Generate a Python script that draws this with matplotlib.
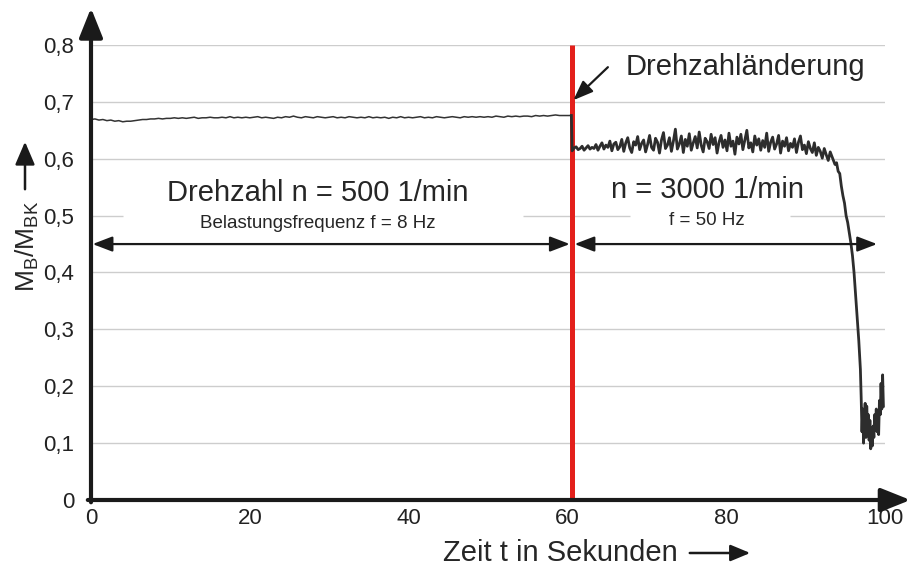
import numpy as np
import matplotlib.pyplot as plt

plt.rcParams['font.family'] = ['Liberation Sans', 'DejaVu Sans']
plt.rcParams['mathtext.default'] = 'regular'

# M_B/M_BK bei 500 1/min, t = 0 ... 60,5 s (alle 0,5 s)
m_500 = [
    0.669, 0.670, 0.668, 0.669, 0.667, 0.668, 0.666, 0.667, 0.665, 0.666,
    0.666, 0.667, 0.668, 0.669, 0.669, 0.670, 0.670, 0.671, 0.670, 0.671,
    0.671, 0.672, 0.671, 0.672, 0.671, 0.672, 0.673, 0.671, 0.672, 0.672,
    0.673, 0.672, 0.672, 0.673, 0.672, 0.674, 0.672, 0.673, 0.672, 0.673,
    0.672, 0.673, 0.674, 0.672, 0.673, 0.672, 0.671, 0.673, 0.672, 0.674,
    0.673, 0.675, 0.673, 0.672, 0.674, 0.673, 0.672, 0.674, 0.673, 0.672,
    0.673, 0.674, 0.672, 0.673, 0.672, 0.674, 0.673, 0.672, 0.673, 0.672,
    0.674, 0.672, 0.673, 0.672, 0.673, 0.671, 0.673, 0.672, 0.674, 0.672,
    0.673, 0.672, 0.673, 0.674, 0.672, 0.673, 0.672, 0.674, 0.673, 0.672,
    0.673, 0.674, 0.673, 0.672, 0.674, 0.673, 0.674, 0.673, 0.674, 0.673,
    0.674, 0.673, 0.675, 0.674, 0.673, 0.675, 0.674, 0.675, 0.674, 0.675,
    0.675, 0.674, 0.676, 0.675, 0.676, 0.675, 0.676, 0.677, 0.676, 0.676,
    0.676, 0.676,
]

# 3000 1/min ab t = 60,6 s (alle 0,25 s)
t_switch = 60.6
m_3000 = [
    0.614, 0.619, 0.621, 0.616, 0.618, 0.622, 0.615, 0.619, 0.623, 0.617, 0.620, 0.618,
    0.625, 0.615, 0.622, 0.628, 0.617, 0.624, 0.620, 0.631, 0.614, 0.626, 0.629, 0.616,
    0.621, 0.634, 0.613, 0.628, 0.637, 0.619, 0.611, 0.630, 0.624, 0.639, 0.616, 0.627,
    0.633, 0.612, 0.625, 0.641, 0.620, 0.615, 0.636, 0.629, 0.610, 0.633, 0.646, 0.618,
    0.624, 0.637, 0.613, 0.631, 0.652, 0.617, 0.626, 0.640, 0.611, 0.634, 0.622, 0.644,
    0.615, 0.628, 0.639, 0.619, 0.647, 0.624, 0.612, 0.636, 0.630, 0.618, 0.643, 0.625,
    0.637, 0.610, 0.629, 0.641, 0.620, 0.633, 0.614, 0.645, 0.622, 0.631, 0.608, 0.638,
    0.626, 0.643, 0.616, 0.633, 0.650, 0.619, 0.628, 0.612, 0.640, 0.624, 0.635, 0.615,
    0.632, 0.620, 0.645, 0.613, 0.629, 0.638, 0.617, 0.626, 0.641, 0.610, 0.631, 0.622,
    0.637, 0.614, 0.627, 0.620, 0.635, 0.611, 0.629, 0.640, 0.616, 0.624, 0.609, 0.630,
    0.618, 0.611, 0.628, 0.606, 0.620, 0.613, 0.601, 0.618, 0.607, 0.597, 0.612, 0.603,
]

# Abfall am Ende
t_fall = [93.5, 93.7, 93.9, 94.1, 94.3, 94.5, 94.7, 94.9, 95.1, 95.3, 95.5, 95.7,
          95.9, 96.1, 96.3, 96.5, 96.7, 96.9, 97.0, 97.1, 97.2, 97.3, 97.4, 97.5,
          97.6, 97.7, 97.8, 97.9, 98.0, 98.1, 98.2, 98.3, 98.4, 98.5, 98.6, 98.7,
          98.8, 98.9, 99.0, 99.1, 99.2, 99.3, 99.4, 99.5, 99.6, 99.7, 99.8]
m_fall = [0.598, 0.590, 0.593, 0.578, 0.574, 0.552, 0.535, 0.522, 0.500, 0.488, 0.470, 0.452,
          0.430, 0.400, 0.360, 0.320, 0.280, 0.230, 0.180, 0.120, 0.160, 0.100, 0.145, 0.170,
          0.110, 0.165, 0.130, 0.150, 0.105, 0.140, 0.090, 0.120, 0.095, 0.130, 0.110, 0.150,
          0.125, 0.160, 0.120, 0.140, 0.115, 0.175, 0.150, 0.205, 0.160, 0.220, 0.165]

x_ticks = [0, 20, 40, 60, 80, 100]
y_ticks = [0, 0.1, 0.2, 0.3, 0.4, 0.5, 0.6, 0.7, 0.8]
y_labels = ['0', '0,1', '0,2', '0,3', '0,4', '0,5', '0,6', '0,7', '0,8']

t_500 = np.arange(len(m_500)) * 0.5
t_3000 = t_switch + np.arange(len(m_3000)) * 0.25
t_hi = np.concatenate([[t_500[-1]], t_3000, t_fall])
m_hi = np.concatenate([[m_500[-1]], m_3000, m_fall])

fig = plt.figure(figsize=(9.11, 5.66), dpi=100)
ax = fig.add_axes([91 / 911, 1 - 500 / 566, 794 / 911, 455 / 566])
ax.set_xlim(0, 100)
ax.set_ylim(0, 0.8)
for s in ax.spines.values():
    s.set_visible(False)

grid_col = '#cdcdcd'
for y in y_ticks[1:]:
    if y == 0.5:
        # Linie wird von den Texten unterbrochen
        ax.hlines(y, 0, 4.0, color=grid_col, lw=1, zorder=0)
        ax.hlines(y, 54.4, 67.9, color=grid_col, lw=1, zorder=0)
        ax.hlines(y, 88.0, 100, color=grid_col, lw=1, zorder=0)
    else:
        ax.hlines(y, 0, 100, color=grid_col, lw=1, zorder=0)

ax.vlines(t_switch, 0, 0.8, color='#e3201b', lw=3.6, zorder=4)
ax.plot(t_500, m_500, color='#333333', lw=1.1, zorder=5)
ax.plot(t_hi, m_hi, color='#2d2d2d', lw=2.0, zorder=5)

# Achsen mit Pfeilen
ax.annotate('', xy=(0, 0.865), xytext=(0, -0.004), annotation_clip=False,
            arrowprops=dict(arrowstyle='-|>,head_length=0.9,head_width=0.36',
                            mutation_scale=20, lw=3, color='#1a1a1a',
                            shrinkA=0, shrinkB=0), zorder=6)
ax.annotate('', xy=(103.2, 0), xytext=(-0.4, 0), annotation_clip=False,
            arrowprops=dict(arrowstyle='-|>,head_length=0.9,head_width=0.36',
                            mutation_scale=20, lw=3, color='#1a1a1a',
                            shrinkA=0, shrinkB=0), zorder=6)

ax.set_xticks(x_ticks, [str(v) for v in x_ticks], fontsize=16)
ax.set_yticks(y_ticks, y_labels, fontsize=16)
ax.tick_params(axis='x', length=0, pad=6, colors='#222222')
ax.tick_params(axis='y', length=0, pad=12, colors='#222222')

# Bereichspfeile
dbl = dict(arrowstyle='<|-|>,head_length=0.6,head_width=0.23', mutation_scale=20,
           lw=1.6, color='#1a1a1a', shrinkA=0, shrinkB=0)
ax.annotate('', xy=(60.3, 0.45), xytext=(0.2, 0.45), arrowprops=dbl, zorder=6)
ax.annotate('', xy=(99.0, 0.45), xytext=(60.9, 0.45), arrowprops=dbl, zorder=6)

txt = '#262626'
ax.text(28.5, 0.540, 'Drehzahl n = 500 1/min', ha='center', va='center', fontsize=21, color=txt)
ax.text(28.5, 0.487, 'Belastungsfrequenz f = 8 Hz', ha='center', va='center', fontsize=13.5, color=txt)
ax.text(77.7, 0.545, 'n = 3000 1/min', ha='center', va='center', fontsize=21, color=txt)
ax.text(77.5, 0.492, 'f = 50 Hz', ha='center', va='center', fontsize=13.5, color=txt)

ax.annotate('', xy=(60.75, 0.703), xytext=(65.1, 0.761),
            arrowprops=dict(arrowstyle='-|>,head_length=0.6,head_width=0.23',
                            mutation_scale=20, lw=1.6, color='#1a1a1a',
                            shrinkA=0, shrinkB=0), zorder=6)
ax.text(82.4, 0.762, 'Drehzahländerung', ha='center', va='center', fontsize=21, color=txt)

# Achsenbeschriftungen
fig.text(560 / 911, 1 - 553 / 566, 'Zeit t in Sekunden', ha='center', va='center',
         fontsize=21, color=txt)
fig.add_artist(plt.matplotlib.patches.FancyArrowPatch(
    (687 / 911, 1 - 553 / 566), (753 / 911, 1 - 553 / 566), transform=fig.transFigure,
    arrowstyle='-|>,head_length=0.6,head_width=0.25', mutation_scale=20,
    lw=1.8, color='#1a1a1a'))

fig.text(27 / 911, 1 - 246 / 566, r'M$_{B}$/M$_{BK}$', ha='center', va='center',
         rotation=90, fontsize=19, color=txt)
fig.add_artist(plt.matplotlib.patches.FancyArrowPatch(
    (25 / 911, 1 - 192 / 566), (25 / 911, 1 - 139 / 566), transform=fig.transFigure,
    arrowstyle='-|>,head_length=0.7,head_width=0.3', mutation_scale=20,
    lw=1.8, color='#1a1a1a'))

fig.savefig('out.png', dpi=100)
